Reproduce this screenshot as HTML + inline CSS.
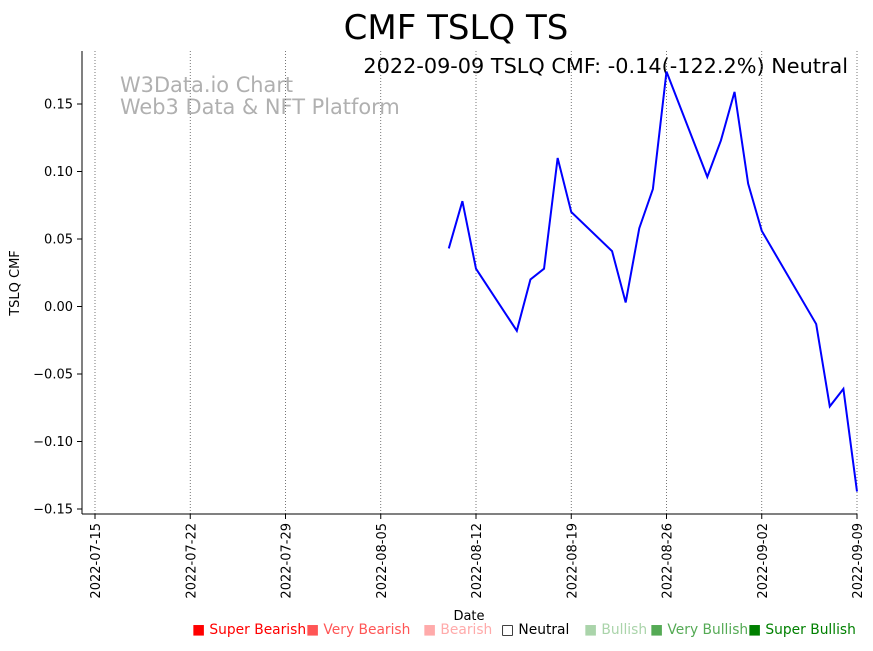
<!DOCTYPE html>
<html><head><meta charset="utf-8"><style>
body{margin:0;background:#fff;font-family:"Liberation Sans","DejaVu Sans",sans-serif;}
svg text{font-family:"DejaVu Sans","Liberation Sans",sans-serif;}
</style></head><body>
<svg id="c" width="873" height="646" xmlns="http://www.w3.org/2000/svg">
<text x="456" y="39" font-size="34" text-anchor="middle">CMF TSLQ TS</text>
<text x="848" y="73" font-size="20.8" text-anchor="end">2022-09-09 TSLQ CMF: -0.14(-122.2%) Neutral</text>
<text x="120" y="92" font-size="20.9" fill="#b0b0b0">W3Data.io Chart</text>
<text x="120" y="114" font-size="20.9" fill="#b0b0b0">Web3 Data &amp; NFT Platform</text>
<g id="grid"></g><g id="axes"></g>
<polyline id="line" fill="none" stroke="#0000ff" stroke-width="2"/>
<text x="19" y="283" font-size="13" text-anchor="middle" transform="rotate(-90 19 283)">TSLQ CMF</text>
<text x="469" y="620" font-size="13" text-anchor="middle">Date</text>
<g font-size="13.8">
<text x="192" y="634" fill="#ff0000">■ Super Bearish</text>
<text x="306" y="634" fill="#ff5555">■ Very Bearish</text>
<text x="423" y="634" fill="#ffaaaa">■ Bearish</text>
<text x="501" y="634" fill="#000">□ Neutral</text>
<text x="584" y="634" fill="#aad4aa">■ Bullish</text>
<text x="650" y="634" fill="#55aa55">■ Very Bullish</text>
<text x="748" y="634" fill="#008000">■ Super Bullish</text>
</g>
</svg>
<script>
const dates=["2022-08-10","2022-08-11","2022-08-12","2022-08-15","2022-08-16","2022-08-17","2022-08-18","2022-08-19","2022-08-22","2022-08-23","2022-08-24","2022-08-25","2022-08-26","2022-08-29","2022-08-30","2022-08-31","2022-09-01","2022-09-02","2022-09-06","2022-09-07","2022-09-08","2022-09-09"];
const cmf=[0.043,0.078,0.028,-0.018,0.020,0.028,0.110,0.070,0.041,0.003,0.058,0.087,0.174,0.096,0.123,0.159,0.091,0.056,-0.013,-0.074,-0.061,-0.137];
const xTicks=["2022-07-15","2022-07-22","2022-07-29","2022-08-05","2022-08-12","2022-08-19","2022-08-26","2022-09-02","2022-09-09"];
const yTicks=[-0.15,-0.10,-0.05,0.00,0.05,0.10,0.15];
const NS="http://www.w3.org/2000/svg";
const t0=Date.parse("2022-07-15"),t1=Date.parse("2022-09-09");
const X=d=>95+(Date.parse(d)-t0)/(t1-t0)*762;
const Y=v=>306.5-v*1350;
function mk(tag,attrs,parent){const e=document.createElementNS(NS,tag);for(const k in attrs)e.setAttribute(k,attrs[k]);document.getElementById(parent).appendChild(e);return e;}
xTicks.forEach(d=>{const x=X(d);
 let g=mk('line',{x1:x,x2:x,y1:51,y2:514,stroke:'#555','stroke-width':0.8,'stroke-dasharray':'1,2'},'grid');
 
 
 let tk=mk('line',{x1:x,x2:x,y1:514,y2:519,stroke:'#000'},'axes');
 
 
 let t=mk('text',{x:0,y:0,'font-size':13,'text-anchor':'end',transform:`translate(${x+5},523) rotate(-90)`},'axes');t.textContent=d;
 
 
});
yTicks.forEach(v=>{const y=Y(v);
 let tk=mk('line',{x1:77,x2:82,y1:y,y2:y,stroke:'#000'},'axes');
 
 
 let t=mk('text',{x:73,y:y+4.5,'font-size':13,'text-anchor':'end'},'axes');t.textContent=(v<0?'\u2212':'')+Math.abs(v).toFixed(2);
 
 
});
let ya=mk('line',{x1:82,x2:82,y1:51,y2:514,stroke:'#000'},'axes');


let xa=mk('line',{x1:82,x2:857,y1:514,y2:514,stroke:'#000'},'axes');


document.getElementById('line').setAttribute('points',dates.map((d,i)=>X(d)+','+Y(cmf[i])).join(' '));
</script>
</body></html>
